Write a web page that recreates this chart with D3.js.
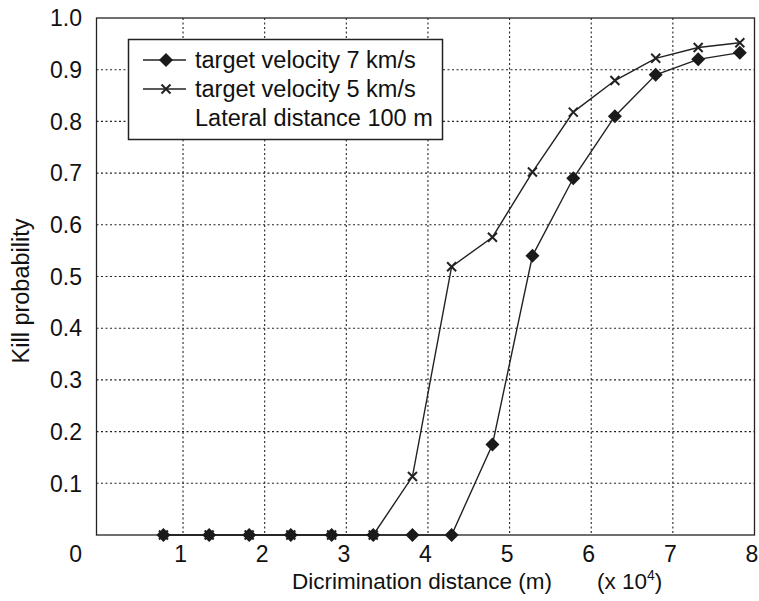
<!DOCTYPE html>
<html><head><meta charset="utf-8">
<script src="https://cdn.jsdelivr.net/npm/d3@7/dist/d3.min.js"></script>
<style>
html,body{margin:0;padding:0;background:#fff;}
svg text{font-family:"Liberation Sans",Arial,Helvetica,sans-serif;fill:#111;}
</style></head>
<body>
<svg id="chart" width="759" height="601"></svg>
<script>
// Data
const distances = [0.76, 1.32, 1.81, 2.32, 2.82, 3.33, 3.81, 4.29, 4.79, 5.28, 5.78, 6.29, 6.79, 7.31, 7.82];
const kill7 = [0, 0, 0, 0, 0, 0, 0, 0, 0.175, 0.54, 0.69, 0.81, 0.89, 0.92, 0.933];
const kill5 = [0, 0, 0, 0, 0, 0, 0.113, 0.519, 0.576, 0.702, 0.818, 0.879, 0.922, 0.943, 0.952];
const xTicks = [1, 2, 3, 4, 5, 6, 7, 8];
const yTicks = [0.1, 0.2, 0.3, 0.4, 0.5, 0.6, 0.7, 0.8, 0.9, 1.0];
const legendLabels = ["target velocity 7 km/s", "target velocity 5 km/s", "Lateral distance 100 m"];

const svg = d3.select("#chart");
const L = 96.5, R = 754.5, T = 18, B = 535;
const x = d3.scaleLinear().domain([-0.06, 8]).range([L, R]);
const y = d3.scaleLinear().domain([0, 1]).range([B, T]);

// grid
const grid = svg.append("g");
grid.selectAll("line.v").data(xTicks.filter(d => d < 8)).join("line")
  .attr("x1", d => x(d)).attr("x2", d => x(d)).attr("y1", T).attr("y2", B)
  .attr("stroke", "#222").attr("stroke-width", 1.1).attr("stroke-dasharray", "2,2.5");
grid.selectAll("line.h").data(yTicks.filter(d => d < 1)).join("line")
  .attr("x1", L).attr("x2", R).attr("y1", d => y(d)).attr("y2", d => y(d))
  .attr("stroke", "#222").attr("stroke-width", 1.1).attr("stroke-dasharray", "2,2.5");

// frame
svg.append("rect").attr("x", L).attr("y", T).attr("width", R - L).attr("height", B - T)
  .attr("fill", "none").attr("stroke", "#222").attr("stroke-width", 1.3);

// axes tick labels
svg.append("g").selectAll("text").data(yTicks).join("text")
  .attr("x", 82).attr("y", d => y(d)).attr("dy", "0.36em")
  .attr("text-anchor", "end").attr("font-size", 23)
  .text(d => d.toFixed(1));
svg.append("text").attr("x", 82).attr("y", 554).attr("dy", "0.36em")
  .attr("text-anchor", "end").attr("font-size", 23).text("0");
svg.append("g").selectAll("text").data(xTicks).join("text")
  .attr("x", d => x(d) - 2.5).attr("y", 554).attr("dy", "0.36em")
  .attr("text-anchor", "middle").attr("font-size", 23)
  .text(d => d);

// axis titles
const xt = svg.append("text").attr("x", 292).attr("y", 589).attr("font-size", 22.5);
xt.append("tspan").text("Dicrimination distance (m)");
xt.append("tspan").attr("x", 597).text("(x 10");
xt.append("tspan").attr("dy", -9).attr("font-size", 14).text("4");
xt.append("tspan").attr("dy", 9).text(")");

svg.append("text").attr("transform", "translate(29,291) rotate(-90)")
  .attr("text-anchor", "middle").attr("font-size", 23.5).text("Kill probability");

// lines
const line = d3.line().x(d => x(d[0])).y(d => y(d[1]));
const s7 = distances.map((d, i) => [d, kill7[i]]);
const s5 = distances.map((d, i) => [d, kill5[i]]);
svg.append("path").attr("d", line(s5)).attr("fill", "none").attr("stroke", "#222").attr("stroke-width", 1.4);
svg.append("path").attr("d", line(s7)).attr("fill", "none").attr("stroke", "#222").attr("stroke-width", 1.4);

const diamond = (cx, cy, r) => `M${cx},${cy - r}L${cx + r},${cy}L${cx},${cy + r}L${cx - r},${cy}Z`;
const cross = (cx, cy, r) => `M${cx - r},${cy - r}L${cx + r},${cy + r}M${cx + r},${cy - r}L${cx - r},${cy + r}`;

svg.append("g").selectAll("path").data(s5).join("path")
  .attr("d", d => cross(x(d[0]), y(d[1]), 4.5)).attr("stroke", "#222").attr("stroke-width", 2).attr("fill", "none");
svg.append("g").selectAll("path").data(s7).join("path")
  .attr("d", d => diamond(x(d[0]), y(d[1]), 7)).attr("fill", "#1a1a1a");

// legend
const lg = svg.append("g");
lg.append("rect").attr("x", 128.5).attr("y", 39.5).attr("width", 314).attr("height", 100)
  .attr("fill", "#fff").attr("stroke", "#222").attr("stroke-width", 1.5);
const rowsY = [60, 89, 118];
lg.append("line").attr("x1", 143).attr("x2", 186).attr("y1", rowsY[0]).attr("y2", rowsY[0]).attr("stroke", "#222").attr("stroke-width", 1.4);
lg.append("path").attr("d", diamond(166, rowsY[0], 7)).attr("fill", "#1a1a1a");
lg.append("line").attr("x1", 143).attr("x2", 186).attr("y1", rowsY[1]).attr("y2", rowsY[1]).attr("stroke", "#222").attr("stroke-width", 1.4);
lg.append("path").attr("d", cross(166, rowsY[1], 4.5)).attr("stroke", "#222").attr("stroke-width", 2);
lg.selectAll("text").data(legendLabels).join("text")
  .attr("x", 195).attr("y", (d, i) => rowsY[i]).attr("dy", "0.36em")
  .attr("font-size", 23.5).text(d => d);
</script>
</body></html>
